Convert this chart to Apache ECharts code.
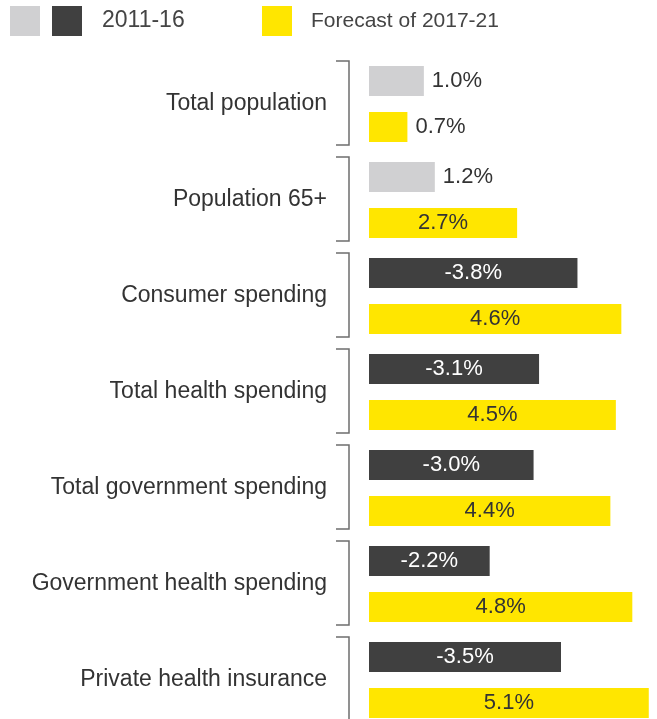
<!DOCTYPE html>
<html>
<head>
<meta charset="utf-8">
<script src="https://cdn.jsdelivr.net/npm/echarts@6/dist/echarts.min.js"></script>
<style>
  html, body { margin: 0; padding: 0; background: #ffffff; }
  #chart { width: 657px; height: 719px; }
</style>
</head>
<body>
<div id="chart"></div>
<script>
// Annual growth, 2011-16 vs forecast 2017-21
const categories = [
  'Total population',
  'Population 65+',
  'Consumer spending',
  'Total health spending',
  'Total government spending',
  'Government health spending',
  'Private health insurance'
];
// 2011-16: population rows are drawn in light grey, spending rows in dark grey
const past = [1.0, 1.2, -3.8, -3.1, -3.0, -2.2, -3.5];
const forecast = [0.7, 2.7, 4.6, 4.5, 4.4, 4.8, 5.1];
const populationRows = 2;

const SERIES_POP = '2011-16 (population)';
const SERIES_PAST = '2011-16';
const SERIES_FORECAST = 'Forecast of 2017-21';

const FONT = '"Liberation Sans", Arial, sans-serif';
const TEXT = '#333333';

function barItem(v, insideColor) {
  const inside = Math.abs(v) >= 2;
  return {
    value: Math.abs(v),
    signed: v,
    label: inside
      ? { position: 'inside', color: insideColor }
      : { position: 'right', distance: 8, color: TEXT }
  };
}

const popData = past.map((v, i) => (i < populationRows ? barItem(v, TEXT) : null));
const pastData = past.map((v, i) => (i >= populationRows ? barItem(v, '#ffffff') : null));
const forecastData = forecast.map(v => barItem(v, TEXT));

const labelCommon = {
  show: true,
  fontFamily: FONT,
  fontSize: 22,
  formatter: p => p.data.signed.toFixed(1) + '%'
};

const chart = echarts.init(document.getElementById('chart'), null, { renderer: 'canvas' });

const legendBase = {
  top: 6,
  padding: 0,
  itemWidth: 30,
  itemHeight: 30,
  icon: 'rect',
  selectedMode: false
};

chart.setOption({
  animation: false,
  textStyle: { fontFamily: FONT },
  legend: [
    Object.assign({}, legendBase, {
      data: [SERIES_POP],
      left: 10,
      formatter: () => ''
    }),
    Object.assign({}, legendBase, {
      data: [SERIES_PAST],
      left: 52,
      textStyle: { fontSize: 23, color: '#444444', fontFamily: FONT, padding: [6, 0, 0, 15] }
    }),
    Object.assign({}, legendBase, {
      data: [SERIES_FORECAST],
      left: 262,
      textStyle: { fontSize: 21, color: '#444444', fontFamily: FONT, padding: [6, 0, 0, 14] }
    })
  ],
  grid: { left: 369, right: 0, top: 56, height: 672, outerBoundsMode: 'none', containLabel: false },
  xAxis: {
    type: 'value',
    min: 0,
    max: 5.25,
    show: false
  },
  yAxis: {
    type: 'category',
    data: categories,
    inverse: true,
    axisLine: { show: false },
    axisTick: { show: false },
    splitLine: { show: false },
    axisLabel: { fontSize: 23, color: TEXT, fontFamily: FONT, margin: 42 }
  },
  series: [
    {
      name: SERIES_POP,
      type: 'bar',
      stack: 'past',
      barWidth: 30,
      barGap: '53.33%',
      itemStyle: { color: '#d0d0d2' },
      label: labelCommon,
      data: popData
    },
    {
      name: SERIES_PAST,
      type: 'bar',
      stack: 'past',
      barWidth: 30,
      barGap: '53.33%',
      itemStyle: { color: '#404040' },
      label: labelCommon,
      data: pastData
    },
    {
      name: SERIES_FORECAST,
      type: 'bar',
      barWidth: 30,
      barGap: '53.33%',
      itemStyle: { color: '#ffe600' },
      label: labelCommon,
      data: forecastData
    },
    {
      // bracket joining each pair of bars
      type: 'custom',
      silent: true,
      clip: false,
      data: categories.map((c, i) => [0, i]),
      encode: { x: 0, y: 1 },
      renderItem: (params, api) => {
        const c = api.coord([0, api.value(1)]);
        const band = api.size([0, 1])[1];
        const x = c[0] - 20;
        const top = c[1] - band / 2 + 5;
        const bottom = c[1] + band / 2 - 7;
        return {
          type: 'polyline',
          shape: { points: [[x - 13, top], [x, top], [x, bottom], [x - 13, bottom]] },
          style: { stroke: '#6e6e6e', lineWidth: 1.5, fill: null }
        };
      }
    }
  ]
});
</script>
</body>
</html>
